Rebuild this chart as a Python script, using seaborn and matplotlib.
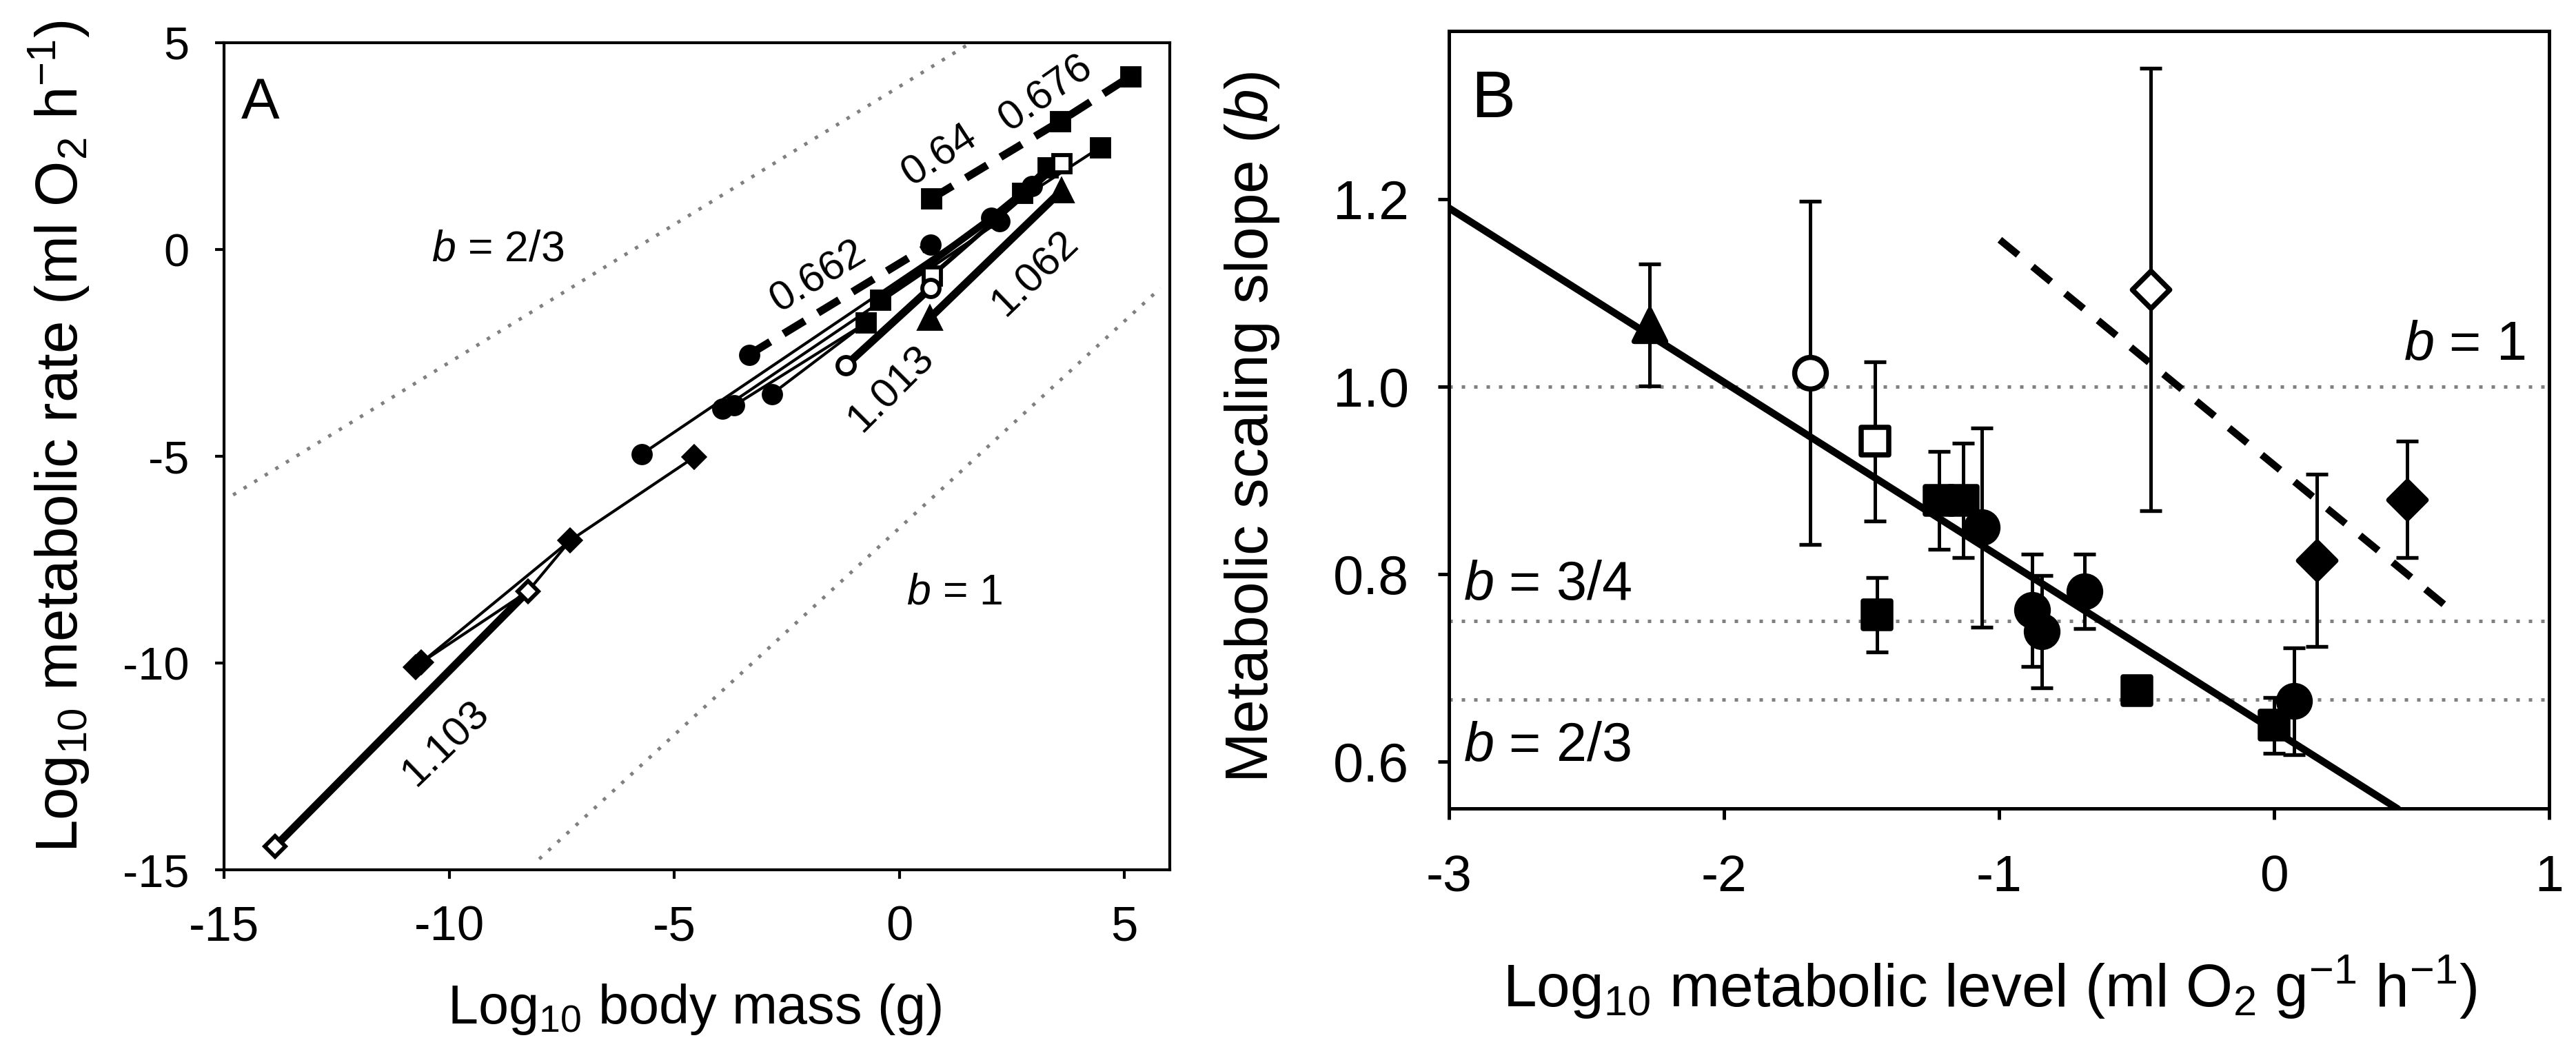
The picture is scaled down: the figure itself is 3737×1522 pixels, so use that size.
import pandas as pd
import seaborn as sns
import matplotlib.pyplot as plt

# ---------------- panel A: log10 body mass vs log10 metabolic rate ----------------
mass = [-13.87, -10.75, -10.62, -8.25, -7.31, -4.56, -5.73, -3.93, -3.67, -2.83,
        -3.34, -1.19, -0.74, -0.43, 0.69, 0.72, 0.69, 0.67, 0.71, 2.04,
        2.22, 2.73, 2.94, 3.30, 3.60, 3.60, 3.57, 4.46, 5.14]
rate = [-14.43, -10.10, -9.98, -8.26, -7.03, -5.02, -4.95, -3.85, -3.77, -3.49,
        -2.54, -2.80, -1.77, -1.21, 0.12, -0.63, -0.93, -1.66, 1.23, 0.76,
        0.68, 1.37, 1.54, 1.98, 2.09, 1.42, 3.10, 2.47, 4.19]
shape = ["D", "D", "D", "D", "D", "D", "o", "o", "o", "o",
         "o", "o", "s", "s", "o", "s", "o", "^", "s", "o",
         "o", "s", "o", "s", "s", "^", "s", "s", "s"]
open_pt = [1, 0, 0, 1, 0, 0, 0, 0, 0, 0,
           0, 1, 0, 0, 0, 1, 1, 0, 0, 0,
           0, 0, 0, 0, 1, 0, 0, 0, 0]

# groups joined by lines (indices into the arrays above) and their line style
groups = [
    ([0, 3], "thick"),
    ([1, 4, 5], "thin"),
    ([2, 3, 4], "thin"),
    ([6, 19, 27], "thin"),
    ([7, 20], "thin"),
    ([8, 12], "thin"),
    ([9, 12], "thin"),
    ([13, 19, 21, 23], "band"),
    ([15, 24], "mid"),
    ([10, 14], "dash"),
    ([11, 16], "thick"),
    ([17, 25], "thick"),
    ([18, 26, 28], "dash"),
]

# reference slopes b = 2/3 and b = 1 (dotted)
ref_x = [[-14.8, 1.59], [-8.0, 5.8]]
ref_y = [[-5.93, 5.0], [-14.73, -0.93]]

slope_labels = ["0.662", "0.64", "0.676", "1.062", "1.013", "1.103"]
slope_x = [-1.80, 0.90, 3.26, 3.02, -0.19, -10.08]
slope_y = [-0.66, 2.28, 3.77, -0.58, -3.37, -11.94]
slope_rot = [31, 33, 35, 44, 45, 44]

# ---------------- panel B: metabolic level vs scaling slope ----------------
level = [-2.27, -1.686, -1.452, -1.217, -1.129, -1.062, -1.443, -0.880,
         -0.845, -0.689, -0.499, 0.0, 0.073, 0.155, 0.484, -0.449]
slope_b = [1.066, 1.015, 0.942, 0.879, 0.879, 0.850, 0.757, 0.762,
           0.739, 0.782, 0.676, 0.639, 0.665, 0.815, 0.880, 1.104]
slope_err = [0.065, 0.183, 0.085, 0.052, 0.061, 0.106, 0.040, 0.060,
             0.060, 0.040, 0.0, 0.030, 0.057, 0.092, 0.062, 0.236]
shape_b = ["^", "o", "s", "s", "s", "o", "s", "o", "o", "o", "s", "s", "o", "D", "D", "D"]
open_b = [0, 1, 1, 0, 0, 0, 0, 0, 0, 0, 0, 0, 0, 0, 0, 1]

fit_solid_x = [-3.0, 0.449]
fit_solid_y = [1.191, 0.550]
fit_dash_x = [-0.997, 0.630]
fit_dash_y = [1.157, 0.765]
ref_levels = [1.0, 0.75, 2 / 3]


def style_axes(ax, lw):
    for sp in ax.spines.values():
        sp.set_linewidth(lw)
        sp.set_color("black")
        sp.set_visible(True)
    ax.set_facecolor("white")
    ax.grid(False)


def plot_panel_a(fig):
    ax = fig.add_axes([0.0870, 0.1705, 0.3670, 0.7888])
    style_axes(ax, 1.0)

    for xs, ys in zip(ref_x, ref_y):
        ax.plot(xs, ys, color="#808080", lw=1.2, ls=(0, (1.0, 2.6)), zorder=1)

    line_kw = {
        "thin": dict(lw=1.0, ls="-"),
        "mid": dict(lw=1.6, ls="-"),
        "band": dict(lw=2.4, ls="-"),
        "thick": dict(lw=2.7, ls="-"),
        "dash": dict(lw=2.7, ls=(0, (3.2, 2.0))),
    }
    for idx, kind in groups:
        ax.plot([mass[i] for i in idx], [rate[i] for i in idx],
                color="black", solid_capstyle="butt", zorder=2, **line_kw[kind])

    ms = {"o": 6.0, "s": 6.0, "D": 5.2, "^": 7.4}
    for x, y, m, o in zip(mass, rate, shape, open_pt):
        ax.plot(x, y, marker=m, ms=ms[m], mec="black", mew=1.4,
                mfc="white" if o else "black", ls="none", zorder=3)

    for t, x, y, r in zip(slope_labels, slope_x, slope_y, slope_rot):
        ax.text(x, y, t, rotation=r, rotation_mode="anchor", ha="center",
                va="center", fontsize=14.5)

    ax.text(-10.4, 0.0, r"$b$ = 2/3", fontsize=15, va="center")
    ax.text(0.15, -8.3, r"$b$ = 1", fontsize=15, va="center")
    ax.text(-14.62, 3.17, "A", fontsize=20, va="baseline")

    ax.set_xlim(-15, 6)
    ax.set_ylim(-15, 5)
    ax.set_xticks(range(-15, 6, 5))
    ax.set_yticks(range(-15, 6, 5))
    ax.tick_params(axis="x", labelsize=17, pad=9, length=3.2, width=1.0, direction="out")
    ax.tick_params(axis="y", labelsize=16, pad=9, length=3.2, width=1.0, direction="out")
    ax.set_xlabel("")
    ax.set_ylabel("")


def plot_panel_b(fig):
    ax = fig.add_axes([0.5624, 0.2290, 0.4272, 0.7417])
    style_axes(ax, 1.2)

    for lv in ref_levels:
        ax.axhline(lv, color="#808080", lw=1.2, ls=(0, (1.0, 2.6)), zorder=1)

    ax.plot(fit_solid_x, fit_solid_y, color="black", lw=2.5, zorder=2)
    ax.plot(fit_dash_x, fit_dash_y, color="black", lw=2.5, ls=(0, (3.3, 2.6)), zorder=2)

    df = pd.DataFrame({"level": level, "b": slope_b, "err": slope_err,
                       "shape": shape_b, "open": open_b})
    has_err = df[df["err"] > 0]
    ax.errorbar(has_err["level"], has_err["b"], yerr=has_err["err"], fmt="none",
                ecolor="black", elinewidth=1.2, capsize=3.8, capthick=1.3, zorder=3)

    sizes = {"o": 11.0, "s": 9.4, "D": 9.2, "^": 11.0}
    for (m, o), sub in df.groupby(["shape", "open"]):
        sns.scatterplot(data=sub, x="level", y="b", marker=m, s=sizes[m] ** 2,
                        color="white" if o else "black", edgecolor="black",
                        linewidth=1.8, ax=ax, zorder=4, legend=False)

    ax.text(0.913, 1.029, r"$b$ = 1", fontsize=19, ha="right", va="baseline")
    ax.text(-2.947, 0.773, r"$b$ = 3/4", fontsize=19, ha="left", va="baseline")
    ax.text(-2.947, 0.601, r"$b$ = 2/3", fontsize=19, ha="left", va="baseline")
    ax.text(-2.919, 1.2875, "B", fontsize=23, va="baseline")

    ax.set_xlim(-3, 1)
    ax.set_ylim(0.55, 1.38)
    ax.set_xticks([-3, -2, -1, 0, 1])
    ax.set_yticks([0.6, 0.8, 1.0, 1.2])
    ax.set_yticklabels([f"{v:.1f}" for v in [0.6, 0.8, 1.0, 1.2]])
    ax.tick_params(axis="x", labelsize=18, pad=12, length=3.8, width=1.2, direction="out")
    ax.tick_params(axis="y", labelsize=19, pad=10, length=3.8, width=1.2, direction="out")
    ax.set_xlabel("")
    ax.set_ylabel("")


def main():
    sns.set_theme(style="ticks")
    plt.rcParams["font.family"] = ["Liberation Sans", "DejaVu Sans"]
    plt.rcParams["mathtext.fontset"] = "custom"
    plt.rcParams["mathtext.rm"] = "Liberation Sans"
    plt.rcParams["mathtext.it"] = "Liberation Sans:italic"
    plt.rcParams["axes.unicode_minus"] = False
    plt.rcParams["text.color"] = "black"
    plt.rcParams["xtick.color"] = "black"
    plt.rcParams["ytick.color"] = "black"

    fig = plt.figure(figsize=(3737 / 300, 1522 / 300), dpi=300)
    fig.patch.set_facecolor("white")
    plot_panel_a(fig)
    plot_panel_b(fig)

    fig.text(0.0230, 0.584, r"Log$_{10}$ metabolic rate (ml O$_2$ h$^{-1}$)",
             rotation=90, ha="center", va="center", fontsize=20.5)
    fig.text(0.2697, 0.0375, r"Log$_{10}$ body mass (g)",
             ha="center", va="center", fontsize=19)
    fig.text(0.4862, 0.5926, r"Metabolic scaling slope ($b$)",
             rotation=90, ha="center", va="center", fontsize=21)
    fig.text(0.7725, 0.0585, r"Log$_{10}$ metabolic level (ml O$_2$ g$^{-1}$ h$^{-1}$)",
             ha="center", va="center", fontsize=21)

    fig.savefig("out.png", dpi=300)


if __name__ == "__main__":
    main()
